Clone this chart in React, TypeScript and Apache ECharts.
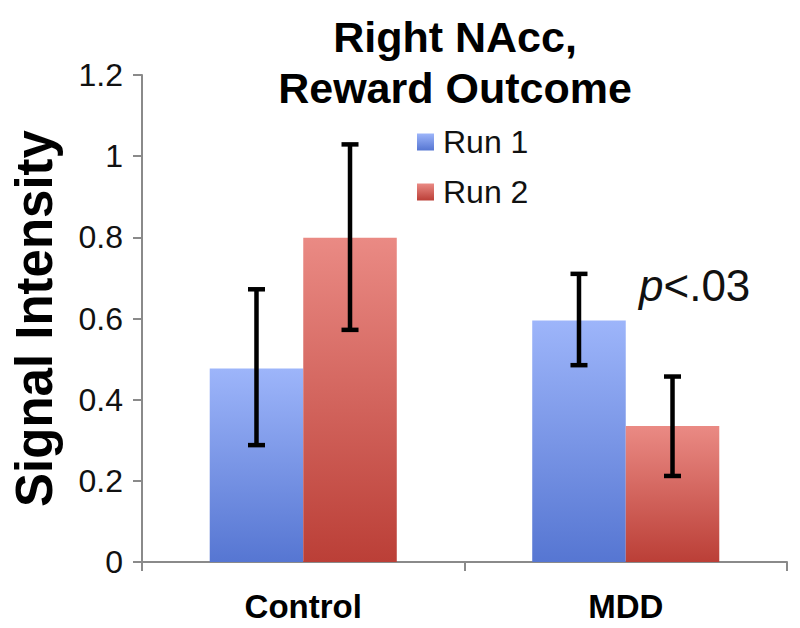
import React, { useEffect, useRef } from "react";
import * as echarts from "echarts";

const categories = ["Control", "MDD"];
const seriesNames = ["Run 1", "Run 2"];
const run1Values = [0.477, 0.595];
const run2Values = [0.799, 0.335];
const run1ErrLow = [0.288, 0.485];
const run1ErrHigh = [0.672, 0.71];
const run2ErrLow = [0.572, 0.212];
const run2ErrHigh = [1.029, 0.457];
const yTicks = { min: 0, max: 1.2, interval: 0.2 };

const FONT = "'Liberation Sans', Arial, Helvetica, sans-serif";
const BAR_FRAC = 0.29;

function errorSeries(lows: number[], highs: number[], offset: number) {
  return {
    type: "custom",
    z: 10,
    silent: true,
    encode: { x: 0, y: [1, 2] },
    data: categories.map((_, i) => [i, lows[i], highs[i]]),
    renderItem: (params: any, api: any) => {
      const cat = api.value(0);
      const lo = api.value(1);
      const hi = api.value(2);
      const top = api.coord([cat, hi]);
      const bot = api.coord([cat, lo]);
      const bw = api.size([1, 0])[0] * BAR_FRAC;
      const x = top[0] + (offset * bw) / 2;
      const cap = 8.5;
      const style = { stroke: "#000", lineWidth: 4.5 };
      return {
        type: "group",
        children: [
          { type: "line", shape: { x1: x, y1: top[1], x2: x, y2: bot[1] }, style },
          { type: "line", shape: { x1: x - cap, y1: top[1], x2: x + cap, y2: top[1] }, style },
          { type: "line", shape: { x1: x - cap, y1: bot[1], x2: x + cap, y2: bot[1] }, style },
        ],
      };
    },
  };
}

export default function App() {
  const ref = useRef<HTMLDivElement>(null);
  useEffect(() => {
    if (!ref.current) return;
    const chart = echarts.init(ref.current, null, { renderer: "svg" });
    const blue = new echarts.graphic.LinearGradient(0, 0, 0, 1, [
      { offset: 0, color: "#9db5fa" },
      { offset: 1, color: "#5676d2" },
    ]);
    const red = new echarts.graphic.LinearGradient(0, 0, 0, 1, [
      { offset: 0, color: "#ea8a84" },
      { offset: 1, color: "#bb3f37" },
    ]);
    chart.setOption({
      animation: false,
      backgroundColor: "#fff",
      textStyle: { fontFamily: FONT },
      title: {
        text: "Right NAcc,\nReward Outcome",
        left: 450,
        top: 6,
        textAlign: "center",
        textStyle: {
          fontFamily: FONT,
          fontSize: 43,
          fontWeight: "bold",
          color: "#000",
          lineHeight: 51,
        },
      },
      legend: {
        orient: "vertical",
        left: 412,
        top: 121,
        itemWidth: 17,
        itemHeight: 17,
        itemGap: 18,
        icon: "rect",
        data: seriesNames,
        textStyle: { fontFamily: FONT, fontSize: 32, color: "#111", padding: [0, 0, 0, 4] },
      },
      grid: { left: 142, right: 13, top: 75, bottom: 66, containLabel: false },
      xAxis: {
        type: "category",
        data: categories,
        boundaryGap: true,
        axisLine: { lineStyle: { color: "#8a8a8a", width: 2 } },
        axisTick: { show: true, length: 9, alignWithLabel: false, lineStyle: { color: "#8a8a8a", width: 2 } },
        axisLabel: {
          fontFamily: FONT,
          fontSize: 33,
          fontWeight: "bold",
          color: "#000",
          margin: 28,
        },
      },
      yAxis: {
        type: "value",
        min: yTicks.min,
        max: yTicks.max,
        interval: yTicks.interval,
        name: "Signal Intensity",
        nameLocation: "middle",
        nameRotate: 90,
        nameGap: 82,
        nameTextStyle: { fontFamily: FONT, fontSize: 51, fontWeight: "bold", color: "#000" },
        splitLine: { show: false },
        axisLine: { show: true, lineStyle: { color: "#8a8a8a", width: 2 } },
        axisTick: { show: true, length: 9, lineStyle: { color: "#8a8a8a", width: 2 } },
        axisLabel: {
          fontFamily: FONT,
          fontSize: 32,
          color: "#111",
          margin: 19,
          formatter: (v: number) => String(Math.round(v * 10) / 10),
        },
      },
      series: [
        {
          name: seriesNames[0],
          type: "bar",
          data: run1Values,
          barWidth: `${BAR_FRAC * 100}%`,
          barGap: "0%",
          itemStyle: { color: blue },
        },
        {
          name: seriesNames[1],
          type: "bar",
          data: run2Values,
          barWidth: `${BAR_FRAC * 100}%`,
          barGap: "0%",
          itemStyle: { color: red },
        },
        errorSeries(run1ErrLow, run1ErrHigh, -1),
        errorSeries(run2ErrLow, run2ErrHigh, 1),
      ],
      graphic: [
        {
          type: "text",
          left: 639,
          top: 263,
          style: {
            text: "{i|p}<.03",
            rich: {
              i: { fontFamily: FONT, fontSize: 44, fontStyle: "italic", fill: "#111" },
            },
            fontFamily: FONT,
            fontSize: 44,
            fill: "#111",
          },
        },
      ],
    });
    return () => chart.dispose();
  }, []);
  return (
    <div
      ref={ref}
      style={{ position: "absolute", left: 0, top: 0, width: 800, height: 628 }}
    />
  );
}
